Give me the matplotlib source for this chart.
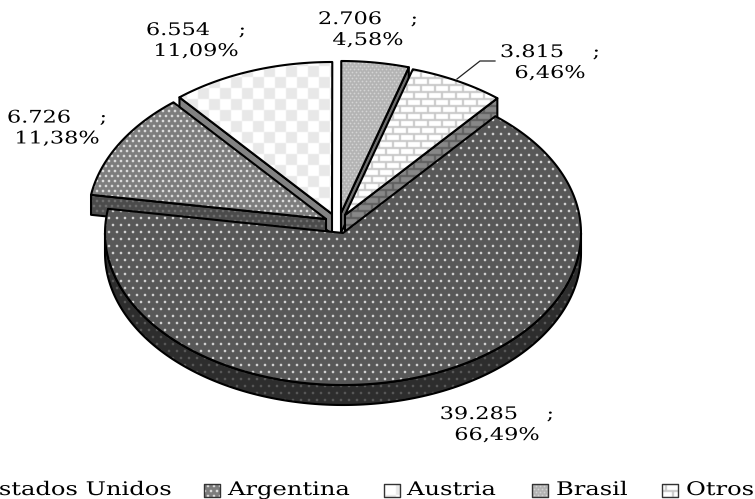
import numpy as np
import matplotlib
matplotlib.use("Agg")
import matplotlib.pyplot as plt
from matplotlib.patches import Polygon
from matplotlib.patheffects import AbstractPathEffect
from matplotlib.transforms import Affine2D

categories = ["Estados Unidos", "Argentina", "Austria", "Brasil", "Otros"]
values = [39285, 6726, 6554, 2706, 3815]
value_labels = ["39.285", "6.726", "6.554", "2.706", "3.815"]
pct_labels = ["66,49%", "11,38%", "11,09%", "4,58%", "6,46%"]

W, H = 755, 499
FONT = "DejaVu Serif"
CX, CY, RX, RY = 343.0, 233.0, 238.0, 152.0
DEPTH = 20.0
START = 50.2
offsets = {"Estados Unidos": (0, 0), "Argentina": (-17, -14), "Austria": (-11, -19),
           "Brasil": (-2, -20), "Otros": (2, -18)}

yy, xx = np.mgrid[0:H, 0:W]


class HStretch(AbstractPathEffect):
    """Widen the glyphs of a text horizontally about a display x position."""
    def __init__(self, sx, x0):
        super().__init__()
        self.sx, self.x0 = sx, x0

    def draw_path(self, renderer, gc, tpath, affine, rgbFace=None):
        t = Affine2D().translate(-self.x0, 0).scale(self.sx, 1).translate(self.x0, 0)
        renderer.draw_path(gc, tpath, affine + t, rgbFace)


def soften(a, n=1):
    for _ in range(n):
        a = (a * 3 + np.roll(a, 1, 0) + np.roll(a, -1, 0) + np.roll(a, 1, 1) + np.roll(a, -1, 1)) / 7
    return a


def solid(c):
    a = np.zeros((H, W, 3))
    a[:] = np.array(c) / 255
    return a


def dots(bg, fg, px, py, size=2):
    a = solid(bg)
    row = yy // py
    col = (xx + (row % 2) * (px // 2)) % px
    m = (col < size) & (yy % py < size)
    a[m] = np.array(fg) / 255
    return soften(a)


def checks(bg, fg, size):
    a = solid(bg)
    m = ((xx // size + yy // size) % 2 == 0)
    a[m] = np.array(fg) / 255
    return soften(a)


def bricks(bg, fg, bw, bh):
    a = solid(bg)
    row = yy // bh
    m = (yy % bh < 2) | ((xx + (row % 2) * (bw // 2)) % bw < 2)
    a[m] = np.array(fg) / 255
    return soften(a)


top_tex = {
    "Estados Unidos": dots((88, 88, 88), (255, 255, 255), 8, 7),
    "Argentina": dots((125, 125, 125), (255, 255, 255), 6, 5),
    "Austria": checks((255, 255, 255), (232, 232, 232), 11),
    "Brasil": dots((180, 180, 180), (255, 255, 255), 4, 3, size=1),
    "Otros": bricks((255, 255, 255), (200, 200, 200), 14, 7),
}
wall_tex = {
    "Estados Unidos": dots((45, 45, 45), (105, 105, 105), 8, 7),
    "Argentina": dots((75, 75, 75), (125, 125, 125), 6, 5),
    "Austria": solid((130, 130, 130)),
    "Brasil": solid((110, 110, 110)),
    "Otros": bricks((135, 135, 135), (95, 95, 95), 14, 7),
}

fig = plt.figure(figsize=(W / 100, H / 100), dpi=100)
ax = fig.add_axes([0, 0, 1, 1])
ax.set_xlim(0, W)
ax.set_ylim(H, 0)
ax.axis("off")


def point(cx, cy, deg):
    t = np.radians(deg)
    return np.column_stack([cx + RX * np.cos(t), cy - RY * np.sin(t)])


def fill(verts, tex, lw=1.5, z=1, ec="black"):
    ax.add_patch(Polygon(verts, closed=True, fc="none", ec=ec, lw=lw, zorder=z + 0.1,
                         joinstyle="round"))
    im = ax.imshow(tex, extent=(0, W, H, 0), interpolation="nearest", zorder=z, aspect="auto")
    im.set_clip_path(Polygon(verts, closed=True, transform=ax.transData))


total = sum(values)
spans = [v / total * 360 for v in values]
angles = {}
a = START
for name, s in zip(categories, spans):
    angles[name] = (a, a - s)
    a -= s

wall_edge = {"Otros": 1, "Brasil": 1, "Argentina": 0, "Austria": 0}
draw_order = ["Austria", "Argentina", "Brasil", "Otros", "Estados Unidos"]
z = 1
for name in draw_order:
    a0, a1 = angles[name]
    dx, dy = offsets[name]
    cx, cy = CX + dx, CY + dy
    top = np.vstack([[cx, cy], point(cx, cy, np.linspace(a0, a1, 200))])
    down = np.array([0, DEPTH])
    if name == "Estados Unidos":
        lo = point(cx, cy, np.linspace(0, -180, 200))
        fill(np.vstack([lo, (lo + down)[::-1]]), wall_tex[name], z=z)
    else:
        ang = (a0, a1)[wall_edge[name]]
        edge = np.array([[cx, cy], point(cx, cy, [ang])[0]])
        fill(np.vstack([edge, (edge + down)[::-1]]), wall_tex[name], z=z)
    z += 1
    fill(top, top_tex[name], z=z)
    z += 1

# data labels
label_pos = {"Estados Unidos": (497, 425), "Argentina": (57, 128.5), "Austria": (196, 41),
             "Brasil": (368, 30), "Otros": (550, 63)}
for name, v, p in zip(categories, value_labels, pct_labels):
    x, y = label_pos[name]
    t = ax.text(x, y, f"{v}    ;\n{p}", ha="center", va="center", fontsize=12.5, family=FONT,
                color="black", linespacing=1.3, zorder=50)
    t.set_path_effects([HStretch(1.29, x)])

# leader line for Otros
ax.plot([457, 480, 495], [79, 61, 61], color="#222222", lw=0.9, zorder=40)

# legend
swatches = [None, (204, 484), (384, 484), (532, 484), (662, 484)]
text_x = [171, 228, 407, 556, 686]
for i, name in enumerate(categories):
    ha = "right" if i == 0 else "left"
    t = ax.text(text_x[i], 490, name, ha=ha, va="center", fontsize=13.5, family=FONT, zorder=50)
    t.set_path_effects([HStretch(1.29, text_x[i])])
    if swatches[i] is not None:
        x, y = swatches[i]
        verts = [(x, y), (x + 16, y), (x + 16, y + 13), (x, y + 13)]
        fill(verts, top_tex[name], lw=1.0, z=45, ec="#333333")

fig.savefig("out.png", dpi=100)
